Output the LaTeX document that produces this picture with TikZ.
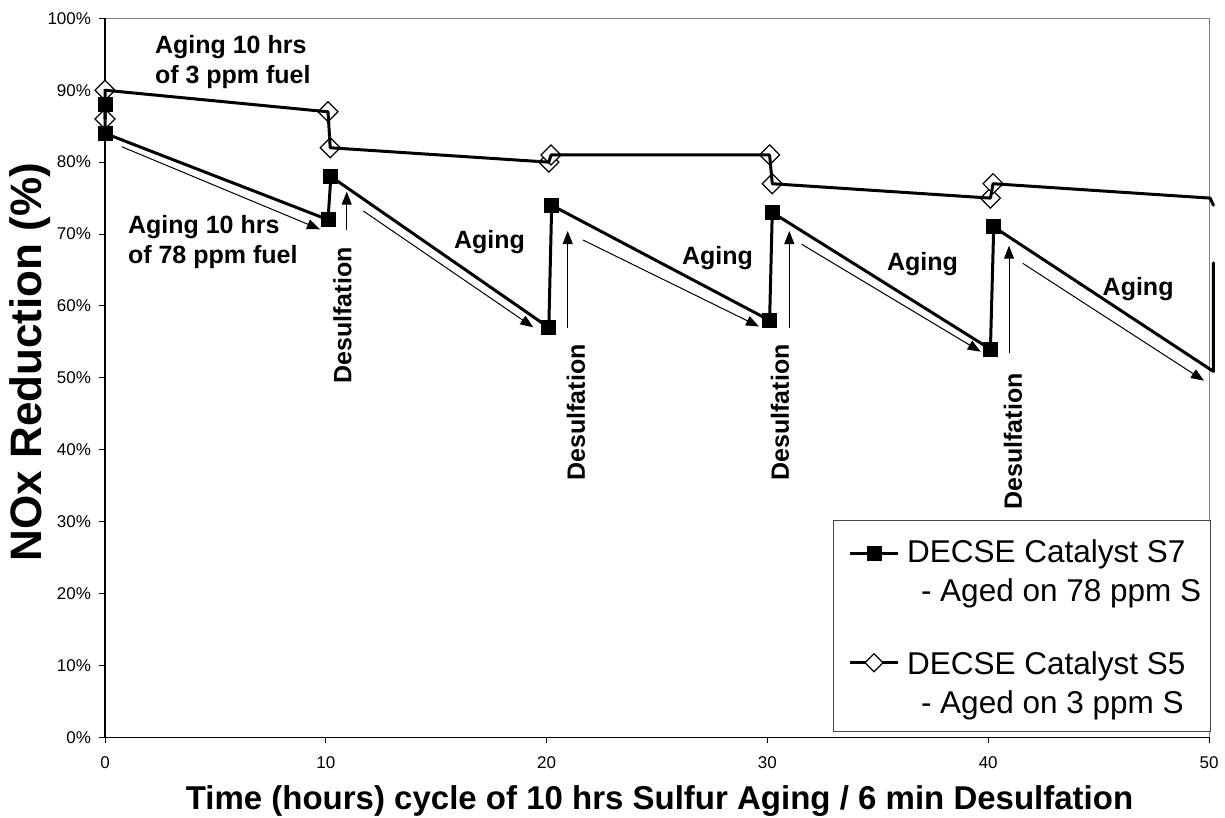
\documentclass[tikz,border=0pt]{standalone}
\usepackage{fontspec}
\setmainfont{Liberation Sans}
\usetikzlibrary{arrows.meta,shapes.geometric}
\definecolor{framegray}{RGB}{128,128,128}
\definecolor{legendgray}{RGB}{70,70,70}
\begin{document}
\begin{tikzpicture}[x=1pt,y=-1pt,
  every node/.style={inner sep=0pt,outer sep=0pt},
  ann/.style={font=\fontsize{25}{30}\selectfont\bfseries,anchor=base west},
  desul/.style={font=\fontsize{25}{30}\selectfont\bfseries,rotate=90,anchor=center},
  ticklab/.style={font=\fontsize{17}{20}\selectfont},
  legtext/.style={font=\fontsize{31.5}{38}\selectfont,anchor=base west},
  thinarrow/.style={line width=1pt,-{Triangle[length=13pt,width=10pt]}},
  seriesline/.style={line width=3pt,line join=round,line cap=round},
  sqmark/.style={rectangle,fill=black,minimum size=15pt},
  dmmark/.style={diamond,draw=black,fill=white,line width=1.2pt,minimum size=20pt}
]
\useasboundingbox (0,0) rectangle (1225,817);
% plot frame
\draw[framegray,line width=1.5pt] (105,18.3) -- (1209.5,18.3) -- (1209.5,737.5);
\draw[black,line width=1.2pt] (105,18.3) -- (105,737.5) -- (1209.5,737.5);
% y ticks and labels
\foreach \k in {0,...,10}{
  \pgfmathsetmacro{\yy}{737.5-71.92*\k}
  \pgfmathtruncatemacro{\pc}{10*\k}
  \draw[line width=1pt] (99,\yy) -- (105,\yy);
  \node[ticklab,anchor=east] (yl\k) at (91,\yy) {\pc\%};
}
% x ticks and labels
\foreach \k in {0,...,5}{
  \pgfmathsetmacro{\xx}{105+220.8*\k}
  \pgfmathtruncatemacro{\tv}{10*\k}
  \draw[line width=1pt] (\xx,737.5) -- (\xx,743);
  \node[ticklab,anchor=north] (xl\k) at (\xx,756.5) {\tv};
}
% axis titles
\node[font=\fontsize{33}{40}\selectfont\bfseries,anchor=base] (xtitle) at (659.5,809.5) {Time (hours) cycle of 10 hrs Sulfur Aging / 6 min Desulfation};
\node[font=\fontsize{44}{52}\selectfont\bfseries,anchor=base,rotate=90] (ytitle) at (41,362) {NOx Reduction (\%)};
% data
\begin{scope}[shift={(105,737.5)},x=22.08pt,y=7.192pt]
  \foreach \p [count=\i] in {{0,86},{0,90},{10.1,87},{10.2,82},{20.1,80},{20.2,81},{30.1,81},{30.22,77},{40.1,75},{40.22,77}}
    \node[dmmark] (s5m\i) at (\p) {};
  \draw[seriesline] (0,86) -- (0,90) -- (10.1,87) -- (10.2,82) -- (20.1,80) -- (20.2,81) -- (30.1,81) -- (30.22,77) -- (40.1,75) -- (40.22,77) -- (50.05,75) -- (50.2,74);
  \draw[seriesline] (0,88) -- (0,84) -- (10.1,72) -- (10.23,78) -- (20.1,57) -- (20.23,74) -- (30.1,58) -- (30.22,73) -- (40.1,54) -- (40.25,71) -- (50.2,50.9) -- (50.2,66);
  \foreach \p [count=\i] in {{0,88},{0,84},{10.1,72},{10.23,78},{20.1,57},{20.23,74},{30.1,58},{30.22,73},{40.1,54},{40.25,71}}
    \node[sqmark] (s7m\i) at (\p) {};
\end{scope}
% annotation arrows
\coordinate (a1s) at (121.7,146.7); \coordinate (a1e) at (320,229.3);
\coordinate (a2s) at (363.3,211);   \coordinate (a2e) at (533.3,327.3);
\coordinate (a3s) at (583,240);     \coordinate (a3e) at (759,326.5);
\coordinate (a4s) at (801.7,244.3); \coordinate (a4e) at (980.7,351.7);
\coordinate (a5s) at (1022.7,263.3);\coordinate (a5e) at (1204,380.7);
\coordinate (v1s) at (346.7,230);   \coordinate (v1e) at (346.7,191.7);
\coordinate (v2s) at (567.7,328.3); \coordinate (v2e) at (567.7,231);
\coordinate (v3s) at (789.3,327.7); \coordinate (v3e) at (789.3,231);
\coordinate (v4s) at (1009,353.3);  \coordinate (v4e) at (1009,245.7);
\foreach \n in {a1,a2,a3,a4,a5,v1,v2,v3,v4}
  \draw[thinarrow] (\n s) -- (\n e);
% annotation texts
\node[ann] (t1a) at (155,53.3) {Aging 10 hrs};
\node[ann] (t1b) at (155,83.3) {of 3 ppm fuel};
\node[ann] (t2a) at (128,233) {Aging 10 hrs};
\node[ann] (t2b) at (128,263.3) {of 78 ppm fuel};
\node[ann] (ag1) at (454,248) {Aging};
\node[ann] (ag2) at (682,264) {Aging};
\node[ann] (ag3) at (887,270.7) {Aging};
\node[ann] (ag4) at (1102.7,295) {Aging};
\node[desul] (d1) at (342.5,315.5) {Desulfation};
\node[desul] (d2) at (576,412.5) {Desulfation};
\node[desul] (d3) at (780,412.5) {Desulfation};
\node[desul] (d4) at (1013,441.5) {Desulfation};
% legend
\node[draw=legendgray,fill=white,line width=1pt,rectangle,minimum width=376.5pt,minimum height=211.7pt,anchor=north west] (legend) at (833.5,520) {};
\coordinate (l1a) at (850,553.3); \coordinate (l1b) at (898,553.3);
\coordinate (l2a) at (850,662.7); \coordinate (l2b) at (898,662.7);
\draw[seriesline,line cap=butt] (l1a) -- (l1b);
\node[sqmark] (lm1) at (874,553.3) {};
\draw[seriesline,line cap=butt] (l2a) -- (l2b);
\node[dmmark,minimum size=18pt] (lm2) at (874,662.7) {};
\node[legtext] (lt1) at (907,562) {DECSE Catalyst S7};
\node[legtext] (lt2) at (921,601.7) {- Aged on 78 ppm S};
\node[legtext] (lt3) at (907,674) {DECSE Catalyst S5};
\node[legtext] (lt4) at (921,713.3) {- Aged on 3 ppm S};
\end{tikzpicture}
\end{document}
